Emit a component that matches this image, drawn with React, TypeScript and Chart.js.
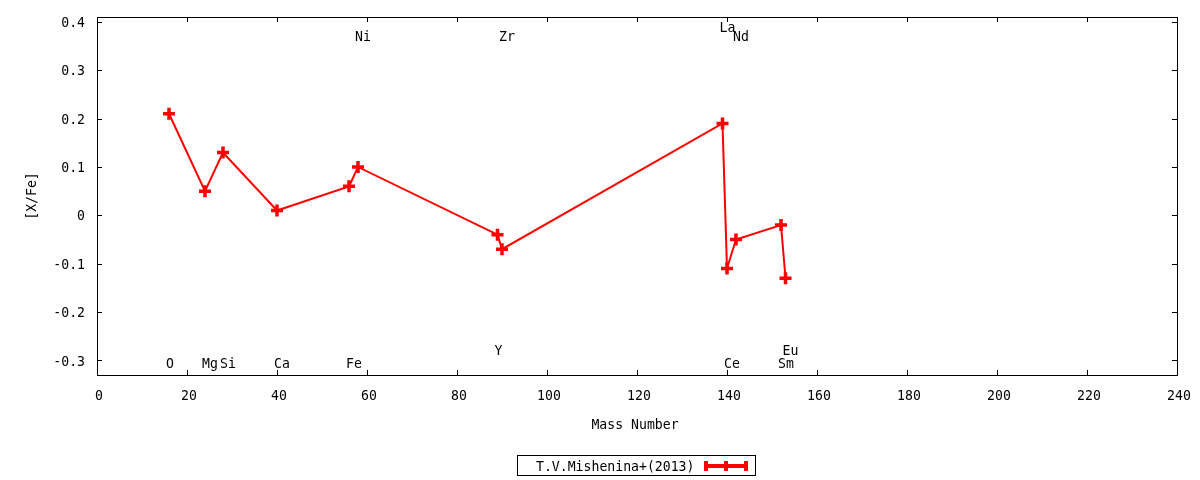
import React, { useEffect, useRef } from "react";
import { Chart, registerables } from "chart.js";

Chart.register(...registerables);

const elements = ["O", "Mg", "Si", "Ca", "Fe", "Ni", "Y", "Zr", "La", "Ce", "Nd", "Sm", "Eu"];
const masses = [16, 24, 28, 40, 56, 58, 89, 90, 139, 140, 142, 152, 153];
const values = [0.21, 0.05, 0.13, 0.01, 0.06, 0.1, -0.04, -0.07, 0.19, -0.11, -0.05, -0.02, -0.13];
const labelY = [-0.305, -0.305, -0.305, -0.305, -0.305, 0.37, -0.278, 0.37, 0.39, -0.305, 0.37, -0.305, -0.278];
const xTicks = [0, 20, 40, 60, 80, 100, 120, 140, 160, 180, 200, 220, 240];
const yTicks = [-0.3, -0.2, -0.1, 0, 0.1, 0.2, 0.3, 0.4];
const seriesName = "T.V.Mishenina+(2013)";
const xTitle = "Mass Number";
const yTitle = "[X/Fe]";

const FONT = "14px 'DejaVu Sans Mono'";
const SX = 0.94;
const DY = 1.5;
const RED = "#ff0000";

function txt(ctx: CanvasRenderingContext2D, s: string, x: number, y: number, align: CanvasTextAlign) {
  ctx.save();
  ctx.translate(x, y + DY);
  ctx.scale(SX, 1);
  ctx.textAlign = align;
  ctx.fillText(s, 0, 0);
  ctx.restore();
}

const fmtY = (v: number) => (Math.abs(v) < 1e-9 ? "0" : v.toFixed(1));

const framePlugin = {
  id: "gnuplotFrame",
  afterDraw(chart: any) {
    const ctx = chart.ctx as CanvasRenderingContext2D;
    const { left, right, top, bottom } = chart.chartArea;
    const xs = chart.scales.x;
    const ys = chart.scales.y;
    ctx.save();
    ctx.strokeStyle = "#000";
    ctx.lineWidth = 1;
    ctx.strokeRect(left + 0.5, top + 0.5, right - left, bottom - top);
    const tl = 5;
    ctx.beginPath();
    xTicks.forEach((v) => {
      const px = Math.round(xs.getPixelForValue(v)) + 0.5;
      ctx.moveTo(px, bottom);
      ctx.lineTo(px, bottom - tl);
      ctx.moveTo(px, top);
      ctx.lineTo(px, top + tl);
    });
    yTicks.forEach((v) => {
      const py = Math.round(ys.getPixelForValue(v)) + 0.5;
      ctx.moveTo(left, py);
      ctx.lineTo(left + tl, py);
      ctx.moveTo(right, py);
      ctx.lineTo(right - tl, py);
    });
    ctx.stroke();

    ctx.fillStyle = "#000";
    ctx.font = FONT;
    ctx.textBaseline = "middle";

    xTicks.forEach((v) => {
      txt(ctx, String(v), xs.getPixelForValue(v) + 2, 395, "center");
    });
    yTicks.forEach((v) => {
      txt(ctx, fmtY(v), 85, ys.getPixelForValue(v), "right");
    });

    elements.forEach((el, i) => {
      const px = xs.getPixelForValue(masses[i]) - 3;
      const py = ys.getPixelForValue(labelY[i]);
      txt(ctx, el, px, py, "left");
    });

    txt(ctx, xTitle, 635, 424, "center");
    ctx.save();
    ctx.translate(32, 196);
    ctx.rotate(-Math.PI / 2);
    txt(ctx, yTitle, 0, -DY, "center");
    ctx.restore();

    ctx.strokeStyle = "#000";
    ctx.lineWidth = 1;
    ctx.strokeRect(517.5, 455.5, 238, 20);
    txt(ctx, seriesName, 536, 466, "left");
    ctx.fillStyle = RED;
    ctx.fillRect(704, 464, 44, 4);
    ctx.fillRect(704, 461, 4, 10);
    ctx.fillRect(744, 461, 4, 10);
    ctx.fillRect(724, 461, 4, 10);
    ctx.restore();
  },
};

export default function App() {
  const ref = useRef<HTMLCanvasElement | null>(null);
  useEffect(() => {
    if (!ref.current) return;
    const chart = new Chart(ref.current, {
      type: "line",
      data: {
        datasets: [
          {
            label: seriesName,
            data: masses.map((m, i) => ({ x: m, y: values[i] })),
            borderColor: RED,
            backgroundColor: RED,
            borderWidth: 2,
            pointStyle: "cross",
            pointRadius: 6,
            pointBorderWidth: 3.5,
            pointBorderColor: RED,
            tension: 0,
          },
        ],
      },
      options: {
        responsive: false,
        animation: false,
        devicePixelRatio: 1,
        layout: { padding: { top: 17, right: 23, left: 0, bottom: 0 } },
        plugins: {
          legend: { display: false },
          tooltip: { enabled: false },
        },
        scales: {
          x: {
            type: "linear",
            min: 0,
            max: 240,
            grid: { display: false, drawTicks: false },
            border: { display: false },
            afterFit: (s: any) => {
              s.height = 105;
            },
            afterBuildTicks: (s: any) => {
              s.ticks = xTicks.map((v) => ({ value: v }));
            },
            ticks: { display: false },
          },
          y: {
            type: "linear",
            min: -0.33,
            max: 0.41,
            grid: { display: false, drawTicks: false },
            border: { display: false },
            afterFit: (s: any) => {
              s.width = 97;
            },
            afterBuildTicks: (s: any) => {
              s.ticks = yTicks.map((v) => ({ value: v }));
            },
            ticks: { display: false },
          },
        },
      },
      plugins: [framePlugin],
    });
    return () => chart.destroy();
  }, []);
  return (
    <div style={{ position: "fixed", left: 0, top: 0, width: 1200, height: 480, background: "#fff" }}>
      <canvas ref={ref} width={1200} height={480} />
    </div>
  );
}
